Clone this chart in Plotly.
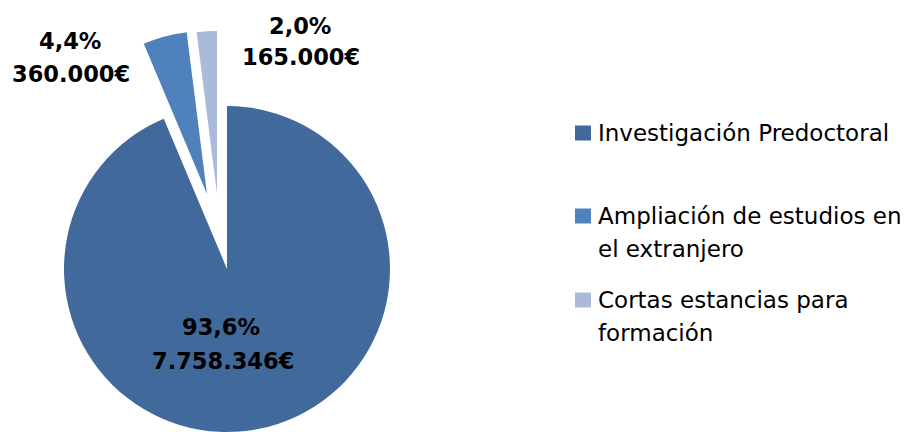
import textwrap
import plotly.graph_objects as go

# ---- data ----
categories = ["Investigación Predoctoral",
              "Ampliación de estudios en el extranjero",
              "Cortas estancias para formación"]
values = [7758346, 360000, 165000]
pct_labels = ["93,6%", "4,4%", "2,0%"]
colors = ["#41699B", "#4F81BD", "#AABAD8"]

# ---- layout geometry (pixels, origin top-left) ----
W, H = 912, 432
R = 163
centres = [(227, 269), (207, 194), (217, 194)]          # exploded slice vertices
label_pos = [((221, 327), (223, 361)), ((70, 41), (71, 74)), ((300, 26), (301, 57))]
legend_x, legend_sw = 575, 16
legend_rows = [133, 216, 300]
LINE = 33


def px(x, y):
    return x / W, 1 - y / H


def dom(cx, cy, r):
    return dict(x=[(cx - r) / W, (cx + r) / W], y=[1 - (cy + r) / H, 1 - (cy - r) / H])


def euro(v):
    return f"{v:,}".replace(",", ".") + "€"


fig = go.Figure()
for i in range(len(values)):
    cols = [colors[j] if j == i else "rgba(0,0,0,0)" for j in range(len(values))]
    fig.add_trace(go.Pie(
        labels=categories, values=values, sort=False, direction="clockwise",
        rotation=0, marker=dict(colors=cols, line=dict(width=0)),
        textinfo="none", hoverinfo="label+value", showlegend=False,
        domain=dom(centres[i][0], centres[i][1], R)))

annotations = []
shapes = []
lab_font = dict(family="DejaVu Sans", size=22.5, color="#000000")
for i in range(len(values)):
    (x1, y1), (x2, y2) = label_pos[i]
    for (x, y), t in (((x1, y1), pct_labels[i]), ((x2, y2), euro(values[i]))):
        ax, ay = px(x, y)
        annotations.append(dict(x=ax, y=ay, xref="paper", yref="paper",
                                text=f"<b>{t}</b>", showarrow=False,
                                xanchor="center", yanchor="middle", font=lab_font))

leg_font = dict(family="DejaVu Sans", size=23, color="#000000")
for i, name in enumerate(categories):
    cy = legend_rows[i]
    x0, y0 = px(legend_x, cy - 7.5)
    x1, y1 = px(legend_x + legend_sw, cy + 7.5)
    shapes.append(dict(type="rect", xref="paper", yref="paper", x0=x0, x1=x1,
                       y0=y1, y1=y0, fillcolor=colors[i], line=dict(width=0)))
    for k, line in enumerate(textwrap.wrap(name, width=25)):
        ax, ay = px(legend_x + legend_sw + 5, cy + k * LINE)
        annotations.append(dict(x=ax, y=ay, xref="paper", yref="paper", text=line,
                                showarrow=False, xanchor="left", yanchor="middle",
                                font=leg_font))

fig.update_layout(width=W, height=H, margin=dict(l=0, r=0, t=0, b=0),
                  paper_bgcolor="white", plot_bgcolor="white",
                  annotations=annotations, shapes=shapes, showlegend=False)
fig.write_html("out.html", config={"displayModeBar": False},
               post_script="document.body.style.margin='0';"
                           "document.body.style.overflow='hidden';")
